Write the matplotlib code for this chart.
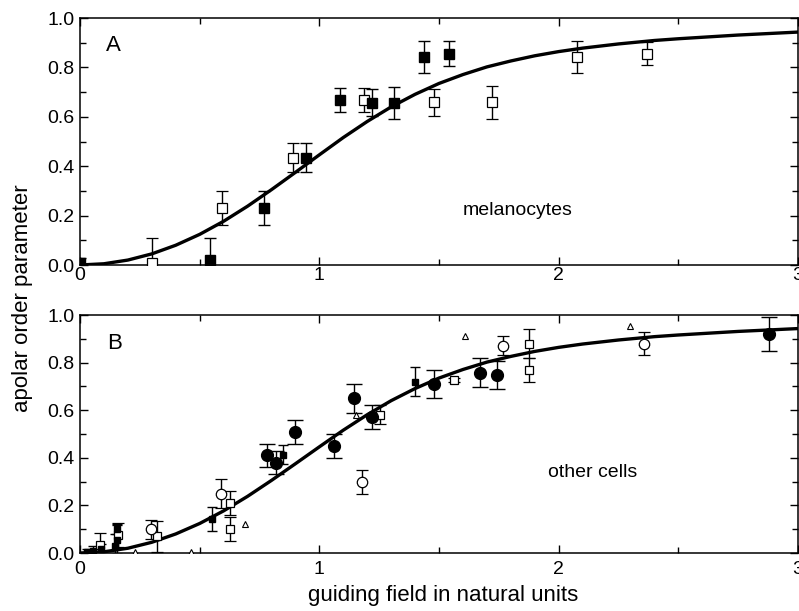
import numpy as np
import matplotlib
matplotlib.use("Agg")
import matplotlib.pyplot as plt

plt.rcParams['font.family'] = ['Liberation Sans', 'DejaVu Sans']

# theory curve
curve_x = [0.0, 0.1, 0.2, 0.3, 0.4, 0.5, 0.6, 0.7, 0.8, 0.9, 1.0, 1.1, 1.2, 1.3,
           1.4, 1.5, 1.6, 1.7, 1.8, 1.9, 2.0, 2.1, 2.25, 2.4, 2.5, 2.75, 3.0]
curve_y = [0.000, 0.005, 0.020, 0.045, 0.080, 0.124, 0.177, 0.238, 0.305, 0.375,
           0.446, 0.516, 0.581, 0.640, 0.691, 0.735, 0.771, 0.802, 0.826, 0.847,
           0.864, 0.878, 0.895, 0.909, 0.916, 0.931, 0.943]

# panel A: melanocytes
a_fill_x = [0.0, 0.545, 0.77, 0.946, 1.088, 1.221, 1.314, 1.439, 1.541]
a_fill_y = [0.01, 0.02, 0.23, 0.435, 0.668, 0.657, 0.657, 0.842, 0.855]
a_fill_e = [0.02, 0.09, 0.07, 0.06, 0.05, 0.055, 0.065, 0.065, 0.05]

a_open_x = [0.30, 0.594, 0.89, 1.185, 1.481, 1.72, 2.076, 2.371]
a_open_y = [0.01, 0.23, 0.435, 0.668, 0.658, 0.658, 0.842, 0.855]
a_open_e = [0.10, 0.07, 0.06, 0.05, 0.055, 0.065, 0.065, 0.046]

# panel B: other cells
b_circ_x = [0.783, 0.821, 0.897, 1.061, 1.143, 1.221, 1.481, 1.672, 1.741, 2.878]
b_circ_y = [0.41, 0.38, 0.51, 0.45, 0.65, 0.57, 0.71, 0.758, 0.748, 0.92]
b_circ_e = [0.05, 0.05, 0.05, 0.05, 0.06, 0.05, 0.06, 0.06, 0.058, 0.07]

b_ocirc_x = [0.296, 0.591, 1.177, 1.766, 2.355]
b_ocirc_y = [0.10, 0.25, 0.30, 0.87, 0.88]
b_ocirc_e = [0.04, 0.06, 0.05, 0.04, 0.05]

b_osq_x = [0.083, 0.16, 0.32, 0.626, 0.626, 1.252, 1.562, 1.874, 1.874]
b_osq_y = [0.035, 0.077, 0.07, 0.21, 0.10, 0.58, 0.727, 0.88, 0.77]
b_osq_e = [0.05, 0.05, 0.065, 0.05, 0.05, 0.04, 0.01, 0.06, 0.05]

b_ssq_x = [0.03, 0.056, 0.088, 0.146, 0.156, 0.156, 0.551, 0.849, 1.40]
b_ssq_y = [0.005, 0.01, 0.017, 0.03, 0.056, 0.10, 0.143, 0.413, 0.72]
b_ssq_e = [0.01, 0.02, 0.02, 0.05, 0.06, 0.02, 0.05, 0.04, 0.06]

b_tri_x = [0.229, 0.462, 0.691, 1.152, 1.61, 2.299]
b_tri_y = [0.005, 0.005, 0.123, 0.58, 0.912, 0.954]

W, H = 799, 611
fig = plt.figure(figsize=(W / 100, H / 100), dpi=100)
axA = fig.add_axes([80 / W, 1 - 265 / H, 718 / W, 247 / H])
axB = fig.add_axes([80 / W, 1 - 553 / H, 718 / W, 238 / H])


def style(ax, pad):
    ax.set_xlim(0, 3)
    ax.set_ylim(0, 1)
    ax.set_xticks([0, 1, 2, 3])
    ax.set_xticks([0.5, 1.5, 2.5], minor=True)
    ax.set_yticks([0, 0.2, 0.4, 0.6, 0.8, 1.0])
    ax.set_yticks(np.arange(0.1, 1.0, 0.2), minor=True)
    ax.set_yticklabels(['0.0', '0.2', '0.4', '0.6', '0.8', '1.0'])
    ax.tick_params(which='both', direction='in', top=True, right=True,
                   labelsize=14, width=1)
    ax.tick_params(which='major', length=6)
    ax.tick_params(which='minor', length=4)
    ax.tick_params(axis='x', pad=pad)
    ax.tick_params(axis='y', pad=4)
    for s in ax.spines.values():
        s.set_linewidth(1.1)
    ax.plot(curve_x, curve_y, color='black', lw=2.4, zorder=3)


style(axA, 1.5)
style(axB, 6)

eb = dict(ls='none', ecolor='black', elinewidth=1, zorder=4)

axA.errorbar(a_open_x, a_open_y, yerr=a_open_e, fmt='s', ms=6.5, mfc='white',
             mec='black', mew=0.9, capsize=4, **eb)
axA.errorbar(a_fill_x, a_fill_y, yerr=a_fill_e, fmt='s', ms=7, mfc='black',
             mec='black', capsize=4, **eb)
axA.text(0.14, 0.89, 'A', fontsize=16, ha='center', va='center')
axA.text(1.83, 0.22, 'melanocytes', fontsize=14, ha='center', va='center')

axB.errorbar(b_osq_x, b_osq_y, yerr=b_osq_e, fmt='s', ms=6, mfc='white',
             mec='black', mew=0.9, capsize=4, **eb)
axB.errorbar(b_ocirc_x, b_ocirc_y, yerr=b_ocirc_e, fmt='o', ms=7.5, mfc='white',
             mec='black', mew=0.9, capsize=4, **eb)
axB.errorbar(b_ssq_x, b_ssq_y, yerr=b_ssq_e, fmt='s', ms=4.5, mfc='black',
             mec='black', capsize=3.5, **eb)
axB.errorbar(b_circ_x, b_circ_y, yerr=b_circ_e, fmt='o', ms=8.5, mfc='black',
             mec='black', capsize=5.5, **eb)
axB.plot(b_tri_x, b_tri_y, '^', ms=5, mfc='white', mec='black', mew=0.8,
         ls='none', zorder=4)
axB.text(0.146, 0.88, 'B', fontsize=16, ha='center', va='center')
axB.text(2.14, 0.34, 'other cells', fontsize=14, ha='center', va='center')

fig.text(0.028, 1 - 298 / H, 'apolar order parameter', rotation=90,
         fontsize=16, ha='center', va='center')
fig.text(443 / W, 1 - 595 / H, 'guiding field in natural units',
         fontsize=16, ha='center', va='center')

fig.savefig('out.png', dpi=100)
